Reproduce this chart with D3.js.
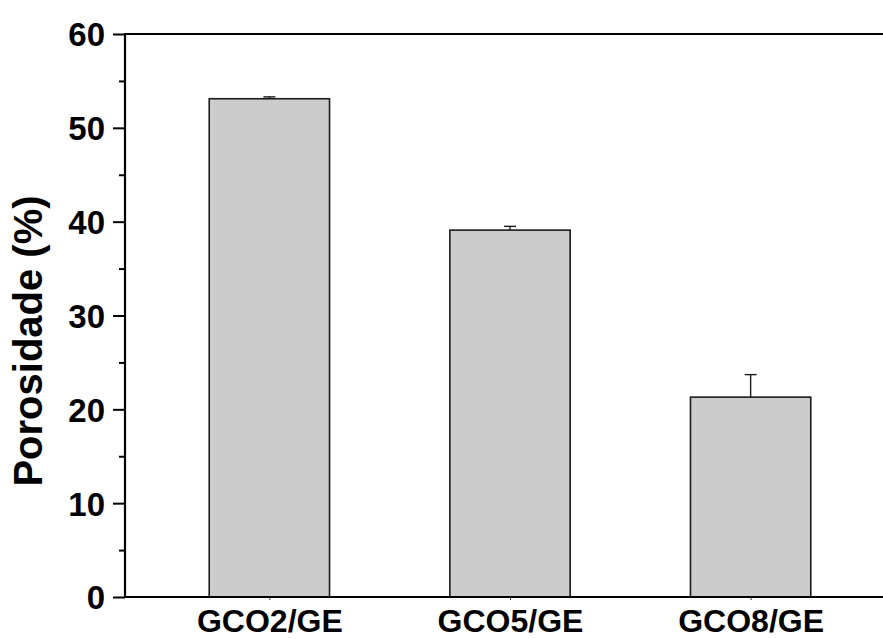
<!DOCTYPE html>
<html>
<head>
<meta charset="utf-8">
<script src="https://cdn.jsdelivr.net/npm/d3@7"></script>
<style>
  html, body { margin: 0; padding: 0; background: #fff; }
  svg { display: block; }
  text { font-family: "Liberation Sans", Arial, sans-serif; font-weight: bold; fill: #000; }
</style>
</head>
<body>
<svg id="chart" width="883" height="639"></svg>
<script>
// Porosity of each sample with its error bar (upper deviation)
const categories = ["GCO2/GE", "GCO5/GE", "GCO8/GE"];
const porosity = [53.1, 39.1, 21.3];
const errorUp = [0.2, 0.4, 2.4];
const yTicks = [0, 10, 20, 30, 40, 50, 60];
const yMinorTicks = [5, 15, 25, 35, 45, 55];
const yTitle = "Porosidade (%)";

const svg = d3.select("#chart");
const plotLeft = 125, plotTop = 34, plotBottom = 597, plotRight = 895;

// Categories sit at positions 1, 2, 3 on a linear axis
const x = d3.scaleLinear().domain([0.4, 3.6]).range([plotLeft, plotRight]);
const y = d3.scaleLinear().domain([0, 60]).range([plotBottom, plotTop]);
const barWidth = x(1.25) - x(0.75);

// Bars
svg.append("g").selectAll("rect")
  .data(porosity)
  .join("rect")
  .attr("x", (d, i) => x(i + 1) - barWidth / 2)
  .attr("y", d => y(d))
  .attr("width", barWidth)
  .attr("height", d => y(0) - y(d))
  .attr("fill", "#cccccc")
  .attr("stroke", "#1a1a1a")
  .attr("stroke-width", 1.6);

// Error bars (upper half only)
const eb = svg.append("g").attr("stroke", "#1a1a1a").attr("stroke-width", 1.4);
porosity.forEach((v, i) => {
  const cx = x(i + 1);
  eb.append("line").attr("x1", cx).attr("x2", cx).attr("y1", y(v)).attr("y2", y(v + errorUp[i]));
  eb.append("line").attr("x1", cx - 6).attr("x2", cx + 6).attr("y1", y(v + errorUp[i])).attr("y2", y(v + errorUp[i]));
});

// Y axis: major ticks with labels, minor ticks between
const yAxis = d3.axisLeft(y).tickValues(yTicks).tickSize(12).tickPadding(8).tickFormat(d3.format("d"));
const gy = svg.append("g").attr("transform", `translate(${plotLeft},0)`).call(yAxis);
gy.select(".domain").remove();
gy.selectAll(".tick line").attr("stroke", "#000").attr("stroke-width", 2);
gy.selectAll(".tick text").attr("font-size", 33).attr("dy", "0.36em")
  .style("font-family", '"Liberation Sans", Arial, sans-serif').style("font-weight", "bold");

const gyMinor = svg.append("g").attr("transform", `translate(${plotLeft},0)`)
  .call(d3.axisLeft(y).tickValues(yMinorTicks).tickSize(6).tickFormat(""));
gyMinor.select(".domain").remove();
gyMinor.selectAll(".tick line").attr("stroke", "#000").attr("stroke-width", 2);

// X axis: short ticks under each category and labels
const xAxis = d3.axisBottom(x).tickValues([1, 2, 3]).tickSize(3).tickPadding(9)
  .tickFormat((d) => categories[d - 1]);
const gx = svg.append("g").attr("transform", `translate(0,${plotBottom})`).call(xAxis);
gx.select(".domain").remove();
gx.selectAll(".tick line").attr("stroke", "#333").attr("stroke-width", 1);
gx.selectAll(".tick text").attr("font-size", 32).attr("dy", "0.71em")
  .style("font-family", '"Liberation Sans", Arial, sans-serif').style("font-weight", "bold");

// Frame: left, top and bottom lines
const frame = svg.append("g").attr("stroke", "#000").attr("stroke-width", 2.2).attr("fill", "none");
frame.append("line").attr("x1", plotLeft).attr("x2", plotLeft).attr("y1", plotTop - 1).attr("y2", plotBottom + 1);
frame.append("line").attr("x1", plotLeft).attr("x2", 883).attr("y1", plotTop).attr("y2", plotTop);
frame.append("line").attr("x1", plotLeft).attr("x2", 883).attr("y1", plotBottom).attr("y2", plotBottom);

// Y title
svg.append("text")
  .attr("transform", "translate(42,341) rotate(-90)")
  .attr("text-anchor", "middle")
  .attr("font-size", 40)
  .text(yTitle);
</script>
</body>
</html>
